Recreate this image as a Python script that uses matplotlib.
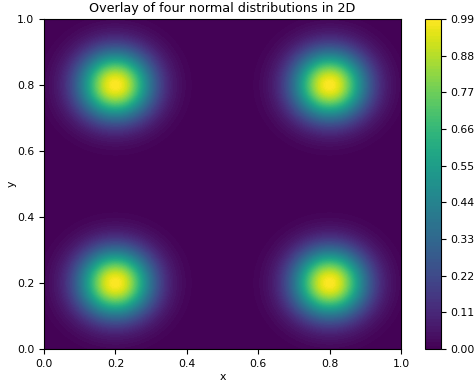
import numpy as np
import matplotlib
matplotlib.use("Agg")
import matplotlib.pyplot as plt

# Gaussian parameters
centers_x = [0.2, 0.2, 0.8, 0.8]
centers_y = [0.2, 0.8, 0.2, 0.8]
sigma = 0.07
cbar_ticks = [0.00, 0.11, 0.22, 0.33, 0.44, 0.55, 0.66, 0.77, 0.88, 0.99]

plt.rcParams['font.size'] = 7.8
fig = plt.figure(figsize=(4.76, 3.87), dpi=100)
ax = fig.add_axes([44/476, 1-349/387, 357/476, 330/387])
cax = fig.add_axes([425/476, 1-349/387, 16/476, 330/387])

x = np.linspace(0, 1, 300)
y = np.linspace(0, 1, 300)
X, Y = np.meshgrid(x, y)
Z = np.zeros_like(X)
for cx, cy in zip(centers_x, centers_y):
    Z += np.exp(-((X - cx) ** 2 + (Y - cy) ** 2) / (2 * sigma ** 2))
Z = Z / Z.max() * 0.99

levels = np.linspace(0, 0.99, 100)
cs = ax.contourf(X, Y, Z, levels=levels, cmap='viridis')
ax.set_xlim(0, 1)
ax.set_ylim(0, 1)
ax.set_xlabel('x', labelpad=2)
ax.set_ylabel('y', labelpad=0)
ax.set_title('Overlay of four normal distributions in 2D', fontsize=9.2, pad=5)
cb = fig.colorbar(cs, cax=cax, ticks=cbar_ticks)
cb.ax.set_yticklabels([f"{t:.2f}" for t in cbar_ticks])
fig.savefig('out.png', dpi=100)
